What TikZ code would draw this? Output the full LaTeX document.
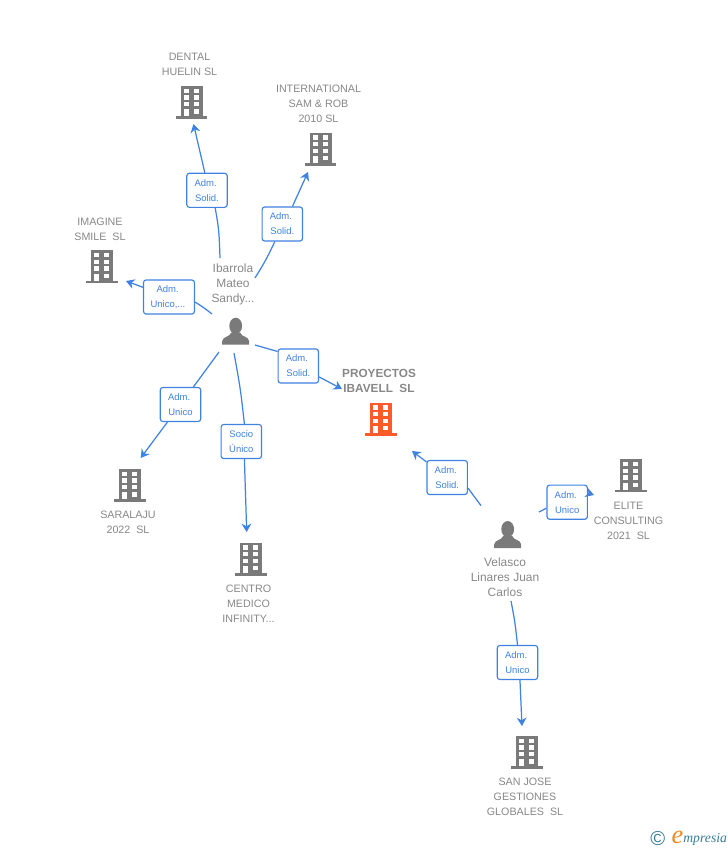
\documentclass[tikz,border=0pt]{standalone}
\usepackage{fontspec}
\setmainfont{Liberation Sans}
\newfontfamily\logofont{Liberation Serif}
\usetikzlibrary{arrows.meta}
\definecolor{icongray}{HTML}{7A7A7A}
\definecolor{iconorange}{HTML}{FF5A2B}
\definecolor{labelgray}{HTML}{878787}
\definecolor{linkblue}{HTML}{3F82E0}
\definecolor{logoteal}{HTML}{3A7C94}
\definecolor{logoorange}{HTML}{F08A1D}
\newcommand{\admword}{Adm.\kern1.6pt}
\tikzset{
  pics/buildingicon/.style={code={
    \fill[#1](-11,0)rectangle(11,-33);
    \fill[#1](-15.7,0)rectangle(15.7,-2.8);
    \foreach \wy in {-26,-19.3,-12.6}{
      \fill[white](-7.7,\wy)rectangle(-3,\wy-4.3);
      \fill[white](2.3,\wy)rectangle(7,\wy-4.3);
    }
    \fill[white](-7.7,-2.8)rectangle(-3,-9.6);
    \fill[white](2.3,-5.4)rectangle(7,-9.6);
  }},
  pics/buildingicon/.default=icongray,
  pics/personicon/.style={code={
    \fill[icongray](0,-18.8)ellipse(6.4 and 8.2);
    \fill[icongray](-13.5,0)--(-13.5,-3.5)..controls(-13,-8.5)and(-6,-7.5)..(-4.5,-12)
      --(4.5,-12)..controls(6,-7.5)and(13,-8.5)..(13.5,-3.5)--(13.5,0)--cycle;
  }},
  boxlabel/.style={draw=linkblue,fill=white,line width=.65pt,rounded corners=1.5pt,
    minimum width=23pt,minimum height=19.4pt,inner sep=0pt,align=center,
    text=linkblue,font=\fontsize{5.4}{8.5}\selectfont},
  firmlabel/.style={align=center,text=labelgray,font=\fontsize{6.1}{8.5}\selectfont},
  namelabel/.style={align=center,text=labelgray,font=\fontsize{6.8}{8.5}\selectfont},
  linkline/.style={draw=linkblue,line width=.7pt},
  linkarrow/.style={linkline,-{Stealth[length=4.8pt,width=5.6pt]}}
}
\begin{document}
\begin{tikzpicture}[x=.02cm,y=-.02cm]
  \useasboundingbox (0,0) rectangle (728,850);
  % icons
  \pic at (191.5,119) {buildingicon};
  \pic at (320.5,165.7) {buildingicon};
  \pic at (102,283.3) {buildingicon};
  \pic at (381,435.7) {buildingicon=iconorange};
  \pic at (631,492.3) {buildingicon};
  \pic at (130,502) {buildingicon};
  \pic at (251,575.7) {buildingicon};
  \pic at (527,769) {buildingicon};
  \pic at (235.7,344.7) {personicon};
  \pic at (507.7,548) {personicon};
  % firm and person names
  \node[firmlabel](dental)at(189.5,64.2){DENTAL\\HUELIN SL};
  \node[firmlabel](international)at(318.5,103.7){INTERNATIONAL\\SAM \& ROB\\2010 SL};
  \node[firmlabel](imagine)at(100,229.2){IMAGINE\\SMILE\ \ SL};
  \node[namelabel](ibarrola)at(233,284.7){Ibarrola\\Mateo\\Sandy...};
  \node[align=center,text=labelgray,font=\fontsize{6.7}{8.5}\selectfont\bfseries](proyectos)at(379,380.5){PROYECTOS\\IBAVELL\ \ SL};
  \node[firmlabel](saralaju)at(128,522.2){SARALAJU\\2022\ \ SL};
  \node[firmlabel](centro)at(248.5,603.7){CENTRO\\MEDICO\\INFINITY...};
  \node[namelabel](velasco)at(505,577){Velasco\\Linares Juan\\Carlos};
  \node[firmlabel](elite)at(628.5,520.7){ELITE\\CONSULTING\\2021\ \ SL};
  \node[firmlabel](sanjose)at(525,796.7){SAN JOSE\\GESTIONES\\GLOBALES\ \ SL};
  % boxes on the links
  \node[boxlabel](dentalbox)at(207,190.3){\admword\\Solid.};
  \node[boxlabel](internationalbox)at(282.3,224){\admword\\Solid.};
  \node[boxlabel,minimum width=29pt](imaginebox)at(169,297){\admword\\Unico,...\kern1.2pt};
  \node[boxlabel](proyectosbox)at(298.3,366){\admword\\Solid.};
  \node[boxlabel](saralajubox)at(180.5,404.5){\admword\\Unico};
  \node[boxlabel](centrobox)at(241.3,441.5){Socio\\Único};
  \node[boxlabel](velascobox)at(447.2,477.5){\admword\\Solid.};
  \node[boxlabel](elitebox)at(567.2,502.2){\admword\\Unico};
  \node[boxlabel](sanjosebox)at(517.5,662.5){\admword\\Unico};
  % free ends of the links
  \coordinate(dentalfrom)at(220,258);
  \coordinate(dentaltip)at(193.5,124);
  \coordinate(internationalfrom)at(255,278);
  \coordinate(internationaltip)at(308,172);
  \coordinate(imaginefrom)at(212,314);
  \coordinate(imaginetip)at(126,281);
  \coordinate(proyectosfrom)at(255,345);
  \coordinate(proyectostip)at(342,389);
  \coordinate(saralajufrom)at(219,352);
  \coordinate(saralajutip)at(140.7,458);
  \coordinate(centrofrom)at(234,353);
  \coordinate(centrotip)at(246.7,532);
  \coordinate(velascofrom)at(481,505.6);
  \coordinate(velascotip)at(412,451);
  \coordinate(elitefrom)at(539,512);
  \coordinate(elitetip)at(594,495);
  \coordinate(sanjosefrom)at(511,601);
  \coordinate(sanjosetip)at(522,726);
  % links
  \draw[linkline](dentalfrom)..controls(219,230)..(dentalbox.-65);
  \draw[linkarrow](dentalbox.97)--(dentaltip);
  \draw[linkline](internationalfrom)..controls(266,260)..(internationalbox.-113);
  \draw[linkarrow](internationalbox.60)--(internationaltip);
  \draw[linkline](imaginefrom)..controls(203,307)..(imaginebox.-11);
  \draw[linkarrow](imaginebox)--(imaginetip);
  \draw[linkline](proyectosfrom)--(proyectosbox.145);
  \draw[linkarrow](proyectosbox)--(proyectostip);
  \draw[linkline](saralajufrom)--(saralajubox);
  \draw[linkarrow](saralajubox)--(saralajutip);
  \draw[linkline](centrofrom)..controls(240.5,389)..(centrobox.80);
  \draw[linkarrow](centrobox.-80)--(centrotip);
  \draw[linkline](velascofrom)--(velascobox.-27);
  \draw[linkarrow](velascobox)--(velascotip);
  \draw[linkline](elitefrom)--(elitebox.-164);
  \draw[linkarrow](elitebox.24)--(elitetip);
  \draw[linkline](sanjosefrom)..controls(515,622)..(sanjosebox.90);
  \draw[linkarrow](sanjosebox.-82)--(sanjosetip);
  % logo
  \node[text=logoteal,font=\fontsize{11.5}{12}\selectfont,inner sep=0pt](logoc)at(657.7,838.5){\textcopyright};
  \node[text=logoorange,font=\fontsize{15}{15}\logofont\itshape,inner sep=0pt](logoe)at(677.5,837){e};
  \node[text=logoteal,font=\fontsize{7.8}{8}\logofont\itshape,inner sep=0pt,anchor=west](logotext)at(683,839){mpresia};
\end{tikzpicture}
\end{document}
